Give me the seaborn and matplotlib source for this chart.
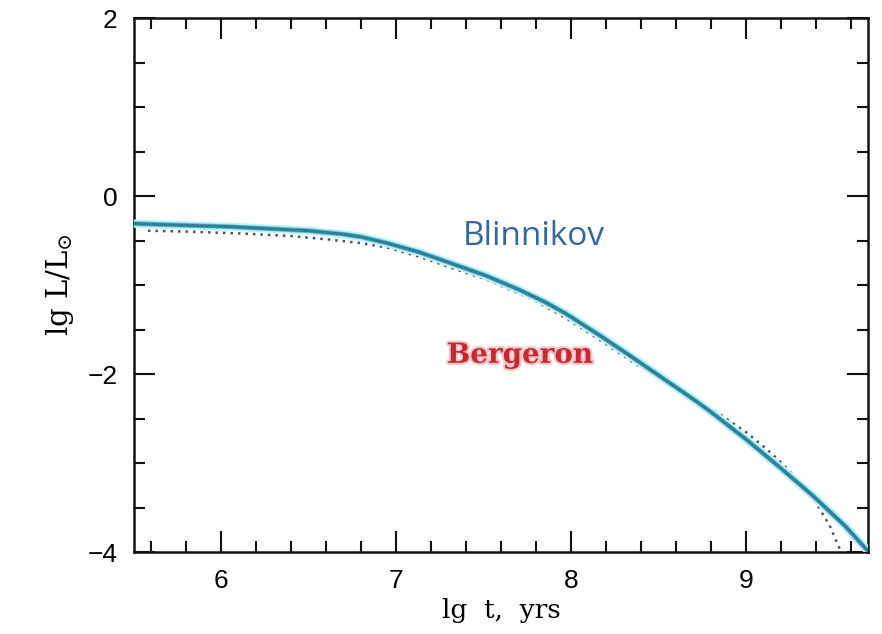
import numpy as np
import pandas as pd
import matplotlib
matplotlib.use("Agg")
import matplotlib.pyplot as plt
import matplotlib.patheffects as pe
from matplotlib.ticker import MultipleLocator
import seaborn as sns

# ---- data ----
blinnikov_x = [5.5, 5.8, 6.05, 6.3, 6.5, 6.7, 6.8, 6.95, 7.13, 7.32, 7.52, 7.7,
               7.85, 7.97, 8.16, 8.35, 8.55, 8.72, 8.81, 9.0, 9.19, 9.38, 9.57, 9.7]
blinnikov_y = [-0.31, -0.33, -0.345, -0.37, -0.39, -0.43, -0.46, -0.53, -0.63, -0.76,
               -0.90, -1.05, -1.19, -1.32, -1.56, -1.81, -2.08, -2.31, -2.44, -2.73,
               -3.04, -3.36, -3.71, -3.99]

bergeron_x = [5.58, 5.8, 6.1, 6.4, 6.62, 6.8, 6.95, 7.13, 7.32, 7.52, 7.66, 7.78,
              7.97, 8.16, 8.35, 8.55, 8.72, 8.85, 9.0, 9.1, 9.19, 9.3, 9.4, 9.48, 9.55]
bergeron_y = [-0.39, -0.40, -0.42, -0.45, -0.49, -0.53, -0.58, -0.68, -0.81, -0.94,
              -1.06, -1.16, -1.37, -1.61, -1.86, -2.10, -2.30, -2.45, -2.65, -2.81,
              -2.97, -3.19, -3.44, -3.70, -4.02]

x_ticks = [6, 7, 8, 9]
y_ticks = [2, 0, -2, -4]

blin_df = pd.DataFrame({"x": blinnikov_x, "y": blinnikov_y})
berg_df = pd.DataFrame({"x": bergeron_x, "y": bergeron_y})

sns.set_theme(style="ticks")
plt.rcParams["font.family"] = ["Liberation Sans", "DejaVu Sans"]
plt.rcParams["mathtext.fontset"] = "dejavuserif"
for k in ["text.color", "axes.labelcolor", "xtick.color", "ytick.color"]:
    plt.rcParams[k] = "black"

fig = plt.figure(figsize=(8.82, 6.34), dpi=100)
ax = fig.add_axes([134 / 882, 82 / 634, (868 - 134) / 882, (552 - 18) / 634])

sns.lineplot(data=berg_df, x="x", y="y", ax=ax, color="#4a5262",
             linewidth=1.8, linestyle=(0, (1, 2)), zorder=3)
sns.lineplot(data=blin_df, x="x", y="y", ax=ax, color="#2f8094",
             linewidth=2.2, zorder=4)
ax.lines[-1].set_path_effects([pe.Stroke(linewidth=6, foreground="#c4f0f9"),
                               pe.Stroke(linewidth=3.4, foreground="#55bdd4"),
                               pe.Normal()])

ax.set_xlim(5.5, 9.7)
ax.set_ylim(-4, 2)
ax.set_xticks(x_ticks)
ax.set_yticks(y_ticks)
ax.xaxis.set_minor_locator(MultipleLocator(0.2))
ax.yaxis.set_minor_locator(MultipleLocator(0.5))
ax.tick_params(which="both", direction="in", top=True, right=True,
               color="#111111", width=1.5, labelcolor="black")
ax.tick_params(which="major", length=15, labelsize=19, pad=12)
ax.tick_params(which="minor", length=8)
for s in ax.spines.values():
    s.set_linewidth(1.8)
    s.set_color("#111111")

ax.set_xlabel("lg  t,  yrs", fontsize=19, family="DejaVu Serif", labelpad=4)
ax.set_ylabel(r"lg L/L$_{\odot}$", fontsize=21, family="DejaVu Serif", labelpad=8)

ax.text(7.38, -0.46, "Blinnikov", color="#3466a0", fontsize=24,
        family="Open Sans", va="center", ha="left")
t = ax.text(7.29, -1.79, "Bergeron", color="#c42a36", fontsize=20,
            family="DejaVu Serif", fontweight="bold", va="center", ha="left")
t.set_path_effects([pe.Stroke(linewidth=3, foreground="#f8c8c8"), pe.Normal()])

fig.savefig("out.png", dpi=100)
